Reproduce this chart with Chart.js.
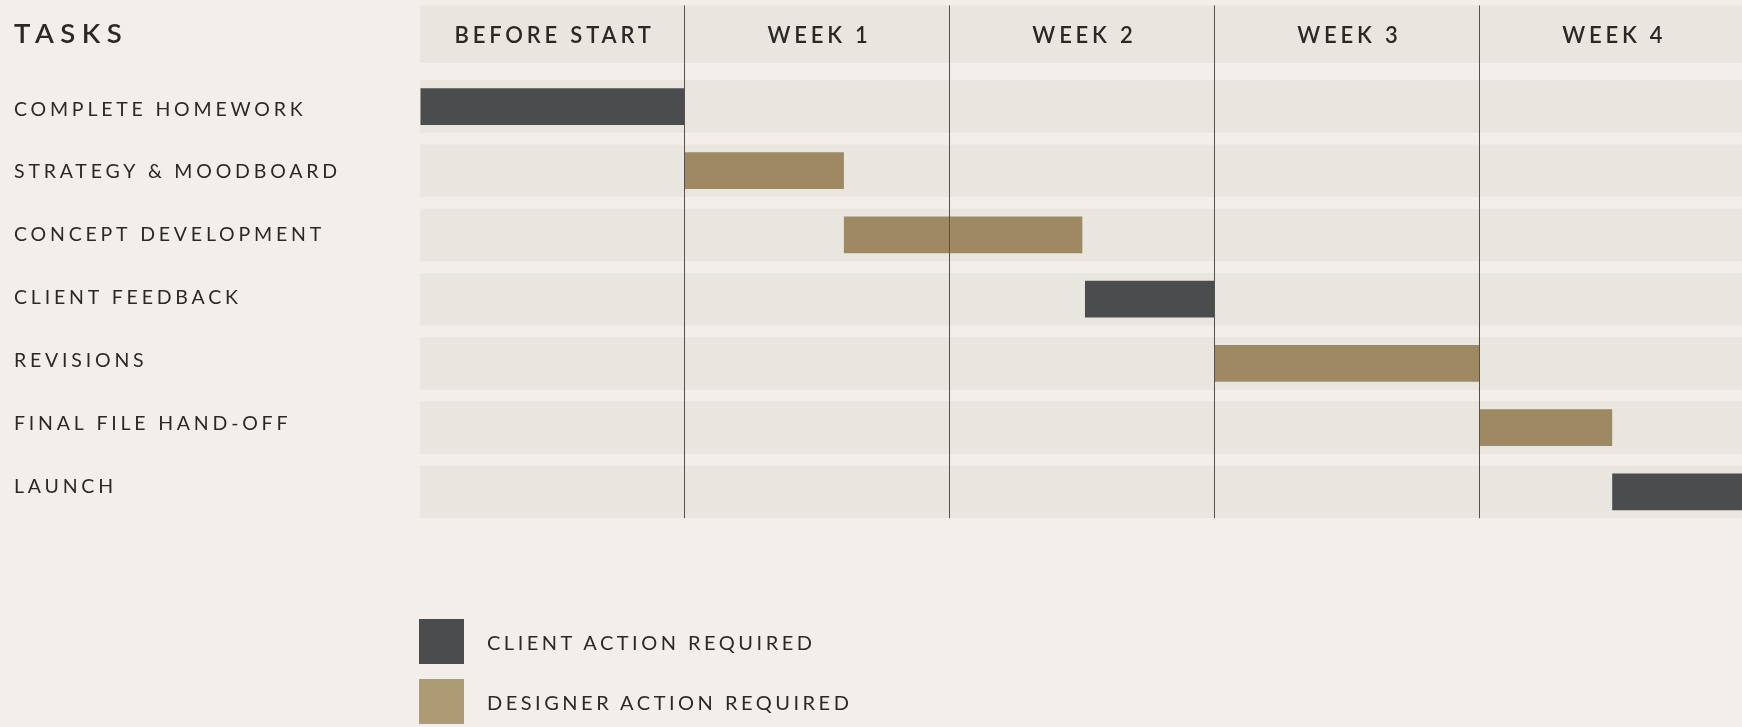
<!DOCTYPE html>
<html>
<head>
<meta charset="utf-8">
<script src="https://cdn.jsdelivr.net/npm/chart.js@4.4.1/dist/chart.umd.min.js"></script>
<style>
    *{padding:0; margin:0;}
    body{background:#f2efea; width:1742px; height:727px; overflow:hidden; position:relative; font-family:Lato, sans-serif;}
    #wrap{position:absolute; left:0; top:0; width:1742px; height:727px;}
    #legend{position:absolute; left:419px; top:619px;}
    #legend .item{display:flex; align-items:center; height:45px; margin-bottom:15px;}
    #legend .box{width:45px; height:45px; margin-right:23px;}
    #legend .txt{font-size:20px; letter-spacing:3.5px; color:#2b2826;}
</style>
</head>
<body>
<div id="wrap"><canvas id="chart"></canvas></div>
<div id="legend"></div>
<script>
    // tasks and their span, in weeks from the "before start" column
    var tasks = ['COMPLETE HOMEWORK', 'STRATEGY & MOODBOARD', 'CONCEPT DEVELOPMENT',
                 'CLIENT FEEDBACK', 'REVISIONS', 'FINAL FILE HAND-OFF', 'LAUNCH'];
    var starts = [0, 1, 1.6, 2.51, 3, 4, 4.5];
    var ends   = [1, 1.6, 2.5, 3, 4, 4.5, 5];
    var owner  = ['client', 'designer', 'designer', 'client', 'designer', 'designer', 'client'];
    var columns = ['BEFORE START', 'WEEK 1', 'WEEK 2', 'WEEK 3', 'WEEK 4'];

    var seriesKeys = ['client', 'designer'];
    var seriesNames = ['CLIENT ACTION REQUIRED', 'DESIGNER ACTION REQUIRED'];
    var barColors = ['#4b4c4e', '#9f8963'];
    var legendColors = ['#4b4c4e', '#ad9b74'];

    var BG = '#f2efea', BAND = '#e9e6e0', INK = '#2b2826';
    var SPACING = '3.8px';

    var ganttBg = {
        id: 'ganttBg',
        beforeUpdate: function(chart) { chart.ctx.letterSpacing = SPACING; },
        beforeDraw: function(chart) {
            var c = chart.ctx, a = chart.chartArea, y = chart.scales.y;
            c.letterSpacing = SPACING;
            c.save();
            c.fillStyle = BAND;
            c.fillRect(a.left, 5.5, a.right - a.left, 57.5);
            var h = (y.bottom - y.top) / tasks.length * 0.82;
            tasks.forEach(function(t, i) {
                var cy = y.getPixelForValue(i);
                c.fillRect(a.left, cy - h / 2, a.right - a.left, h);
            });
            c.fillStyle = INK;
            c.font = '600 27.5px Lato';
            c.letterSpacing = '6.5px';
            c.textBaseline = 'middle';
            c.fillText('TASKS', 14, 34);
            c.restore();
        },
        afterDraw: function(chart) {
            // grid lines stop with the last row band
            var c = chart.ctx, a = chart.chartArea, y = chart.scales.y;
            var h = (y.bottom - y.top) / tasks.length * 0.82;
            var last = y.getPixelForValue(tasks.length - 1) + h / 2;
            c.save();
            c.fillStyle = BG;
            c.fillRect(a.left - 2, last, a.right - a.left + 4, a.bottom - last + 2);
            c.restore();
        }
    };

    var datasets = seriesKeys.map(function(key, k) {
        return {
            label: seriesNames[k],
            data: tasks.map(function(t, i) { return owner[i] === key ? [starts[i], ends[i]] : null; }),
            backgroundColor: barColors[k],
            borderWidth: 0,
            borderSkipped: false,
            grouped: false,
            barPercentage: 0.572,
            categoryPercentage: 1
        };
    });

    var chart = new Chart(document.getElementById('chart'), {
        type: 'bar',
        data: { labels: tasks, datasets: datasets },
        plugins: [ganttBg],
        options: {
            indexAxis: 'y',
            responsive: true,
            maintainAspectRatio: false,
            animation: false,
            layout: { padding: { left: 14, right: 0, top: 0, bottom: 203 } },
            plugins: { legend: { display: false }, tooltip: { enabled: false } },
            scales: {
                x: {
                    type: 'linear',
                    position: 'top',
                    min: 0,
                    max: 4.99,
                    afterBuildTicks: function(s) { s.ticks = [0, 1, 2, 3, 4, 5].map(function(v) { return { value: v }; }); },
                    afterFit: function(s) { s.height = 74.4; },
                    grid: {
                        z: 1,
                        lineWidth: 1,
                        tickLength: 69,
                        color: function(ctx) {
                            return ctx.tick && ctx.tick.value > 0 && ctx.tick.value < 5 ? '#55514c' : 'rgba(0,0,0,0)';
                        }
                    },
                    border: { display: false },
                    ticks: {
                        labelOffset: 134.6,
                        padding: -43.4,
                        maxRotation: 0,
                        autoSkip: false,
                        color: INK,
                        font: { family: 'Lato', size: 22, weight: '600' },
                        callback: function(v) { return columns[v] || ''; }
                    }
                },
                y: {
                    type: 'category',
                    offset: true,
                    afterFit: function(s) { s.width = 0; },
                    grid: { display: false },
                    border: { display: false },
                    ticks: { display: false }
                },
                // task names sit slightly off the band centres in the original, so they get their own axis
                yLabels: {
                    type: 'linear',
                    position: 'left',
                    reverse: true,
                    offset: false,
                    min: -0.555,
                    max: 6.597,
                    afterBuildTicks: function(s) { s.ticks = tasks.map(function(t, i) { return { value: i }; }); },
                    afterFit: function(s) { s.width = 406; },
                    grid: { display: false },
                    border: { display: false },
                    ticks: {
                        crossAlign: 'far',
                        autoSkip: false,
                        color: INK,
                        font: { family: 'Lato', size: 19.5 },
                        callback: function(v) { return tasks[v]; }
                    }
                }
            }
        }
    });

    var legend = document.getElementById('legend');
    seriesNames.forEach(function(name, k) {
        var item = document.createElement('div');
        item.className = 'item';
        var box = document.createElement('span');
        box.className = 'box';
        box.style.background = legendColors[k];
        var txt = document.createElement('span');
        txt.className = 'txt';
        txt.textContent = name;
        item.appendChild(box);
        item.appendChild(txt);
        legend.appendChild(item);
    });
</script>
</body>
</html>
